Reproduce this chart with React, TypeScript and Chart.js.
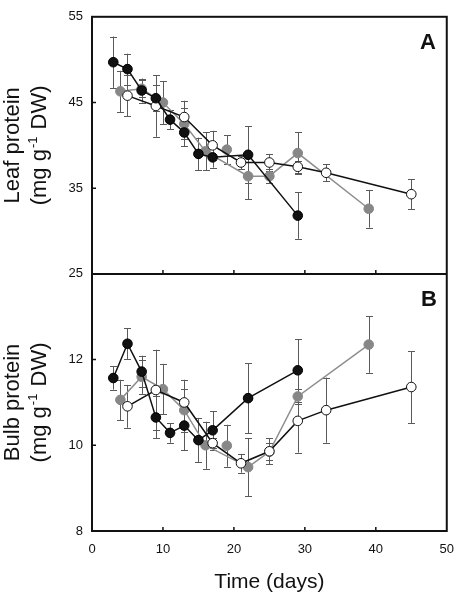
import React, { useEffect, useRef } from 'react';
import { Chart, registerables } from 'chart.js';
Chart.register(...registerables);

const FONT = '"Liberation Sans", Arial, Helvetica, sans-serif';

const xTickValues = [0, 10, 20, 30, 40, 50];
const leafTickValues = [25, 35, 45, 55];
const bulbTickValues = [8, 10, 12];

// Series 1: black filled circles
const daysBlack = [3, 5, 7, 9, 11, 13, 15, 17, 22, 29];
const leafBlack = [49.7, 48.9, 46.4, 45.5, 43.0, 41.5, 39.0, 38.6, 38.9, 31.8];
const leafBlackErr = [3.0, 1.8, 1.4, 1.5, 1.1, 1.6, 1.9, 1.2, 3.3, 2.7];
const bulbBlack = [11.57, 12.37, 11.72, 10.65, 10.29, 10.46, 10.12, 10.35, 11.1, 11.75];
const bulbBlackErr = [0.27, 0.36, 0.37, 0.49, 0.23, 0.58, 0.52, 0.45, 0.82, 0.73];

// Series 2: grey filled circles (connected)
const daysGrey = [4, 7, 10, 13, 16, 22, 25, 29, 39];
const leafGrey = [46.3, 46.6, 45.0, 42.5, 39.3, 36.4, 36.4, 39.1, 32.6];
const leafGreyErr = [2.4, 1.0, 2.5, 1.8, 2.2, 2.7, 0.8, 2.4, 2.2];
const bulbGrey = [11.06, 11.6, 11.31, 10.82, 10.0, 9.49, 9.85, 11.14, 12.35];
const bulbGreyErr = [0.47, 0.4, 0.59, 0.5, 0.55, 0.68, 0.2, 0.17, 0.66];

// Series 2: grey point not joined to the line
const daysGreySingle = [19];
const leafGreySingle = [39.5];
const leafGreySingleErr = [1.7];
const bulbGreySingle = [9.99];
const bulbGreySingleErr = [0.49];

// Series 3: open circles
const daysWhite = [5, 9, 13, 17, 21, 25, 29, 33, 45];
const leafWhite = [45.8, 44.6, 43.3, 40.0, 38.0, 38.0, 37.5, 36.8, 34.3];
const leafWhiteErr = [2.4, 3.6, 1.9, 1.7, 0.8, 1.0, 0.7, 1.0, 1.75];
const bulbWhite = [10.91, 11.29, 11.0, 10.05, 9.58, 9.86, 10.57, 10.82, 11.36];
const bulbWhiteErr = [0.5, 0.94, 0.53, 0.12, 0.22, 0.3, 0.74, 0.76, 0.84];

const styleBlack = {
  borderColor: '#111',
  backgroundColor: '#111',
  pointBackgroundColor: '#111',
  pointBorderColor: '#000',
};
const styleWhite = {
  borderColor: '#111',
  backgroundColor: '#fff',
  pointBackgroundColor: '#fff',
  pointBorderColor: '#111',
};
const styleGrey = {
  borderColor: '#8e8e8e',
  backgroundColor: '#878787',
  pointBackgroundColor: '#878787',
  pointBorderColor: '#878787',
};

function makeSet(xs: number[], ys: number[], errs: number[], axis: string, style: any, showLine = true) {
  return {
    data: xs.map((x, i) => ({ x, y: ys[i] })),
    errors: errs,
    yAxisID: axis,
    xAxisID: 'x',
    borderWidth: 1.5,
    pointRadius: 4.8,
    pointBorderWidth: 1,
    fill: false,
    tension: 0,
    showLine,
    ...style,
  };
}

const errorBarPlugin = {
  id: 'errorBars',
  beforeDatasetsDraw(chart: any) {
    const ctx = chart.ctx;
    ctx.save();
    ctx.strokeStyle = '#5a5a5a';
    ctx.lineWidth = 1;
    chart.data.datasets.forEach((ds: any, i: number) => {
      const meta = chart.getDatasetMeta(i);
      const xs = chart.scales[meta.xAxisID];
      const ys = chart.scales[meta.yAxisID];
      ds.data.forEach((d: any, j: number) => {
        const e = ds.errors[j];
        const px = Math.round(xs.getPixelForValue(d.x)) + 0.5;
        const y1 = ys.getPixelForValue(d.y + e);
        const y2 = ys.getPixelForValue(d.y - e);
        ctx.beginPath();
        ctx.moveTo(px, y1);
        ctx.lineTo(px, y2);
        ctx.moveTo(px - 3.5, Math.round(y1) + 0.5);
        ctx.lineTo(px + 3.5, Math.round(y1) + 0.5);
        ctx.moveTo(px - 3.5, Math.round(y2) + 0.5);
        ctx.lineTo(px + 3.5, Math.round(y2) + 0.5);
        ctx.stroke();
      });
    });
    ctx.restore();
  },
};

function drawYTitle(ctx: CanvasRenderingContext2D, line1: string, cy: number) {
  ctx.save();
  ctx.translate(0, cy);
  ctx.rotate(-Math.PI / 2);
  ctx.fillStyle = '#111';
  ctx.font = `22px ${FONT}`;
  ctx.textAlign = 'center';
  ctx.textBaseline = 'alphabetic';
  ctx.fillText(line1, 0, 19);
  const a = '(mg g';
  const sup = '-1';
  const b = ' DW)';
  ctx.font = `22px ${FONT}`;
  const wa = ctx.measureText(a).width;
  const wb = ctx.measureText(b).width;
  ctx.font = `13px ${FONT}`;
  const ws = ctx.measureText(sup).width;
  const total = wa + ws + 2 + wb;
  let x = -total / 2;
  ctx.textAlign = 'left';
  ctx.font = `22px ${FONT}`;
  ctx.fillText(a, x, 46);
  x += wa + 1;
  ctx.font = `13px ${FONT}`;
  ctx.fillText(sup, x, 37);
  x += ws + 1;
  ctx.font = `22px ${FONT}`;
  ctx.fillText(b, x, 46);
  ctx.restore();
}

const framePlugin = {
  id: 'frame',
  afterDraw(chart: any) {
    const ctx = chart.ctx;
    const xs = chart.scales.x;
    const yA = chart.scales.yA;
    const yB = chart.scales.yB;
    const left = xs.left;
    const right = xs.right;
    const top = Math.min(yA.top, yB.top);
    const bottom = Math.max(yA.bottom, yB.bottom);
    const mid = yA.top < yB.top ? yA.bottom : yB.bottom;
    ctx.save();
    ctx.strokeStyle = '#111';
    ctx.lineWidth = 2;
    ctx.strokeRect(left, top, right - left, bottom - top);
    ctx.beginPath();
    ctx.moveTo(left, mid);
    ctx.lineTo(right, mid);
    ctx.stroke();
    // inward tick marks
    ctx.lineWidth = 1.5;
    ctx.beginPath();
    xTickValues.slice(1, -1).forEach((v) => {
      const px = xs.getPixelForValue(v);
      ctx.moveTo(px, bottom);
      ctx.lineTo(px, bottom - 4);
      ctx.moveTo(px, mid);
      ctx.lineTo(px, mid - 4);
    });
    leafTickValues.slice(1, -1).forEach((v) => {
      const py = yA.getPixelForValue(v);
      ctx.moveTo(left, py);
      ctx.lineTo(left + 4, py);
    });
    bulbTickValues.slice(1).forEach((v) => {
      const py = yB.getPixelForValue(v);
      ctx.moveTo(left, py);
      ctx.lineTo(left + 4, py);
    });
    ctx.stroke();

    // panel letters
    ctx.fillStyle = '#111';
    ctx.font = `bold 22px ${FONT}`;
    ctx.textAlign = 'right';
    ctx.textBaseline = 'alphabetic';
    ctx.fillText('A', right - 11, yA.top + 32);
    ctx.fillText('B', right - 10, yB.top + 32);

    // x title
    ctx.font = `21px ${FONT}`;
    ctx.textAlign = 'center';
    ctx.fillText('Time (days)', (left + right) / 2, 588);

    drawYTitle(ctx, 'Leaf protein', (yA.top + yA.bottom) / 2);
    drawYTitle(ctx, 'Bulb protein', (yB.top + yB.bottom) / 2);
    ctx.restore();
  },
};

export default function App() {
  const ref = useRef<HTMLCanvasElement>(null);
  useEffect(() => {
    const canvas = ref.current!;
    const tickFont = { family: FONT, size: 13 };
    const chart = new Chart(canvas, {
      type: 'line',
      data: {
        datasets: [
          makeSet(daysBlack, leafBlack, leafBlackErr, 'yA', styleBlack),
          makeSet(daysWhite, leafWhite, leafWhiteErr, 'yA', styleWhite),
          makeSet(daysGrey, leafGrey, leafGreyErr, 'yA', styleGrey),
          makeSet(daysGreySingle, leafGreySingle, leafGreySingleErr, 'yA', styleGrey, false),
          makeSet(daysBlack, bulbBlack, bulbBlackErr, 'yB', styleBlack),
          makeSet(daysWhite, bulbWhite, bulbWhiteErr, 'yB', styleWhite),
          makeSet(daysGrey, bulbGrey, bulbGreyErr, 'yB', styleGrey),
          makeSet(daysGreySingle, bulbGreySingle, bulbGreySingleErr, 'yB', styleGrey, false),
        ] as any,
      },
      options: {
        responsive: false,
        animation: false,
        devicePixelRatio: 1,
        layout: { padding: { left: 0, right: 10, top: 8, bottom: 0 } },
        plugins: { legend: { display: false }, tooltip: { enabled: false } },
        scales: {
          x: {
            type: 'linear',
            position: 'bottom',
            min: 0,
            max: 50,
            grid: { display: false, drawTicks: false },
            border: { display: false },
            afterBuildTicks: (s: any) => {
              s.ticks = xTickValues.map((v) => ({ value: v }));
            },
            afterFit: (s: any) => {
              s.height = 65;
            },
            ticks: { font: tickFont, color: '#111', padding: 11, maxRotation: 0 },
          },
          yB: {
            type: 'linear',
            position: 'left',
            stack: 'panels',
            stackWeight: 1,
            min: 8,
            max: 14,
            grid: { display: false, drawTicks: false },
            border: { display: false },
            afterBuildTicks: (s: any) => {
              s.ticks = bulbTickValues.map((v) => ({ value: v }));
            },
            afterFit: (s: any) => {
              s.width = 92;
            },
            ticks: { font: tickFont, color: '#111', padding: 9 },
          },
          yA: {
            type: 'linear',
            position: 'left',
            stack: 'panels',
            stackWeight: 1,
            min: 25,
            max: 55,
            grid: { display: false, drawTicks: false },
            border: { display: false },
            afterBuildTicks: (s: any) => {
              s.ticks = leafTickValues.map((v) => ({ value: v }));
            },
            afterFit: (s: any) => {
              s.width = 92;
            },
            ticks: { font: tickFont, color: '#111', padding: 9 },
          },
        },
      } as any,
      plugins: [errorBarPlugin, framePlugin],
    });
    return () => chart.destroy();
  }, []);
  return (
    <canvas
      ref={ref}
      width={465}
      height={596}
      style={{ position: 'absolute', left: 0, top: 0, width: 465, height: 596, display: 'block' }}
    />
  );
}
